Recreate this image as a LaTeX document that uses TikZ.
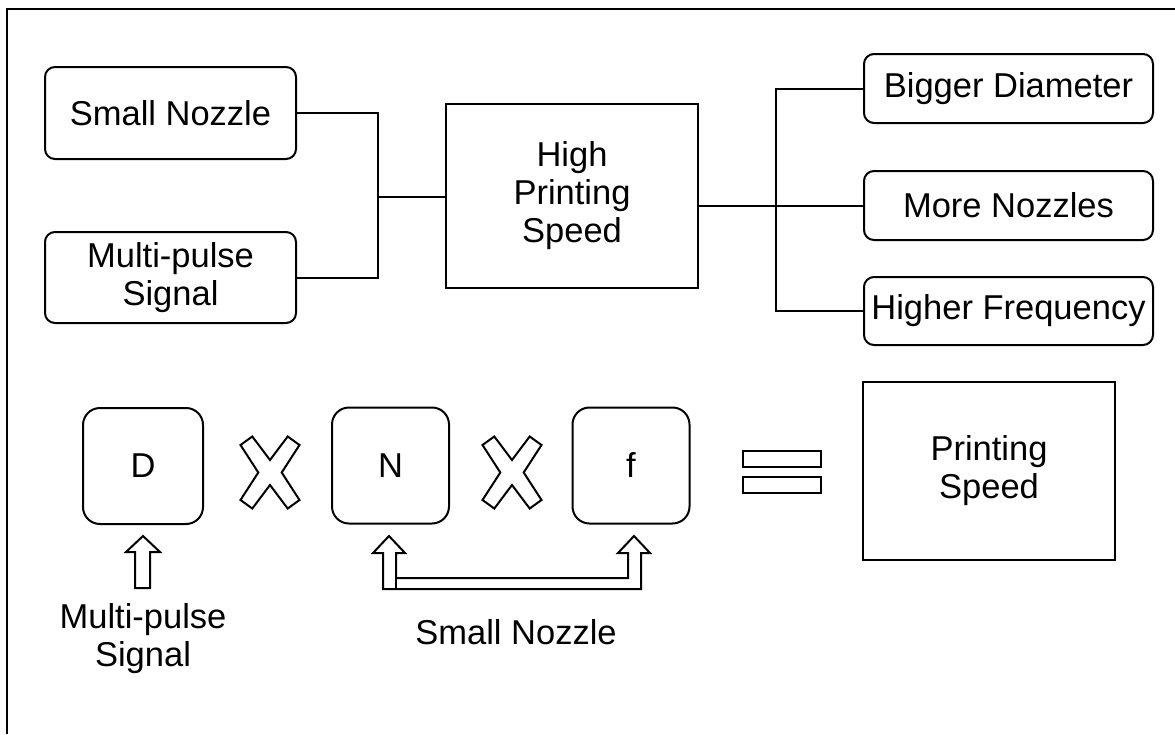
\documentclass[tikz,border=0pt]{standalone}
\usepackage{fontspec}
\setmainfont{Liberation Sans}
\begin{document}
\begin{tikzpicture}[x=1pt,y=-1pt,
  every node/.style={font=\fontsize{34.5}{38}\selectfont},
  ln/.style={line width=2pt, line join=miter},
  rbox/.style={draw, line width=2pt, rounded corners=10pt, align=center, inner sep=0pt},
  sqbox/.style={draw, line width=2pt, rounded corners=17pt, inner sep=0pt, minimum width=117pt, minimum height=116pt},
  pbox/.style={draw, line width=2pt, align=center, inner sep=0pt},
  lbl/.style={align=center, inner sep=0pt}
]
\useasboundingbox (0,0) rectangle (1175,734);
% frame (top and left edges)
\draw[ln] (7,734) -- (7,9) -- (1175,9);

% top row
\node[rbox, minimum width=251pt, minimum height=92pt] (sn) at (170.5,113) {Small Nozzle};
\node[rbox, minimum width=251pt, minimum height=91pt] (mp) at (170.5,277.5) {Multi-pulse\\Signal};
\node[pbox, minimum width=252pt, minimum height=184pt] (hps) at (572,196) {High\\Printing\\Speed};
\node[rbox, minimum width=289pt, minimum height=69pt] (bd) at (1008.5,88.5) {Bigger Diameter};
\node[rbox, minimum width=289pt, minimum height=69pt] (mn) at (1008.5,205.5) {More Nozzles};
\node[rbox, minimum width=289pt, minimum height=68pt] (hf) at (1008.5,311) {Higher Frequency};

\coordinate (j1) at (378,197);
\coordinate (j2) at (776,205.5);
\draw[ln] (sn.east) -| (j1) |- (mp.east);
\draw[ln] (j1) -- (hps.west |- j1);
\draw[ln] (hps.east |- j2) -- (j2);
\draw[ln] (bd.west) -| (j2) |- (hf.west);
\draw[ln] (j2) -- (mn.west);

% bottom row
\node[sqbox, minimum width=120pt] (d) at (143,466) {D};
\node[sqbox] (n) at (390.5,465.5) {N};
\node[sqbox] (f) at (631,465.5) {f};
\node[pbox, minimum width=252pt, minimum height=178pt] (ps) at (989,471) {Printing\\Speed};

% multiplication signs
\foreach \cx/\nm in {270/x1, 512/x2}{
  \coordinate (\nm) at (\cx,472.5);
  \draw[ln] (\nm) ++(-11.7,0) -- ++(-17.8,-27.5) -- ++(11.8,-8.5) -- ++(17.7,23.5)
    -- ++(17.7,-23.5) -- ++(11.8,8.5) -- ++(-17.8,27.5) -- ++(17.8,27.5)
    -- ++(-11.8,8.5) -- ++(-17.7,-23.5) -- ++(-17.7,23.5) -- ++(-11.8,-8.5) -- cycle;
}

% equals sign
\node[draw, line width=2pt, minimum width=78pt, minimum height=16pt, inner sep=0pt] (eq1) at (782,459) {};
\node[draw, line width=2pt, minimum width=78pt, minimum height=16pt, inner sep=0pt] (eq2) at (782,485) {};

% hollow arrow under D
\draw[ln] (d.south |- 0,536) coordinate (ta)
  -- ++(17,16) -- ++(-10,0) -- ++(0,36) -- ++(-15,0) -- ++(0,-36) -- ++(-9,0) -- cycle;

% U-shaped double arrow under N and f
\coordinate (tn) at (389,536);
\coordinate (tf) at (634,536);
\draw[ln] (tn) -- (405,553) -- (396,553) -- (396,578) -- (628,578) -- (628,553) -- (618,553)
  -- (tf) -- (650,553) -- (641,553) -- (641,589) -- (383,589) -- (383,553) -- (373,553) -- cycle;
\draw[ln] (396,578) -- (396,589);

% labels
\node[lbl] (lmp) at (143,639) {Multi-pulse\\Signal};
\node[lbl] (lsn) at (516,632.5) {Small Nozzle};
\end{tikzpicture}
\end{document}
